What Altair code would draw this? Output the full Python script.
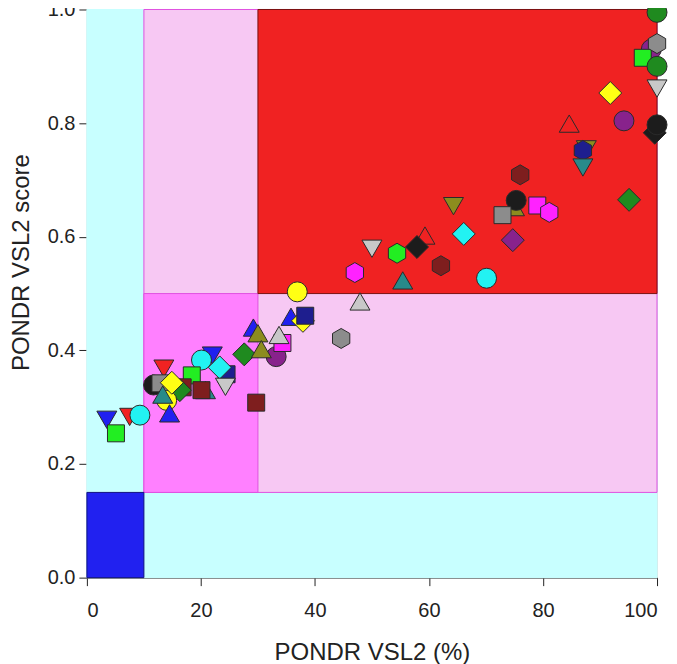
import altair as alt
import pandas as pd

# ---- background regions ----
region_x = [0, 10, 10, 30, 0]
region_x2 = [100, 100, 30, 100, 10]
region_y = [0, 0.15, 0.15, 0.5, 0]
region_y2 = [1, 1, 0.5, 1, 0.15]
region_fill = ["#C8FFFF", "#F7C8F3", "#FF80FF", "#F02222", "#2121F0"]
region_stroke = ["#C8FFFF", "#E050E0", "#E050E0", "#7A1010", "#101080"]

# ---- shapes & colours ----
SHAPES = {
    "circle": "circle",
    "square": "M-0.85,-0.85L0.85,-0.85L0.85,0.85L-0.85,0.85Z",
    "diamond": "M0,-1.15L1.15,0L0,1.15L-1.15,0Z",
    "up": "M0,-1.1L1,0.63L-1,0.63Z",
    "down": "M0,1.1L1,-0.63L-1,-0.63Z",
    "hex": "M0,-1L0.866,-0.5L0.866,0.5L0,1L-0.866,0.5L-0.866,-0.5Z",
}
COLORS = {
    "green": "#1F8A1F", "lime": "#22EE22", "gray": "#8C8C8C", "lgray": "#C8C8C8",
    "purple": "#88228C", "yellow": "#FFFF14", "black": "#1C1C1C", "red": "#F02222",
    "olive": "#8C8C1E", "navy": "#1E1E8E", "teal": "#288A8A", "maroon": "#7E1E1E",
    "magenta": "#FF22FF", "cyan": "#22F2F2", "blue": "#2020F0",
}

# ---- data points ----
x_values = [100, 99.0, 97.5, 100, 100, 100, 91.8, 94.2, 99.6, 100,
            84.6, 87.6, 87.0, 87.0, 95.1, 76.0, 75.0, 75.3, 72.9, 79.0,
            81.1, 74.7, 66.1, 64.3, 70.1, 59.3, 57.9, 54.4, 62.1, 55.4,
            50.0, 47.0, 36.9, 47.9, 44.6, 35.8, 37.9, 38.3, 29.2, 30.0,
            33.2, 34.3, 33.7, 27.6, 30.6, 29.7, 22.0, 24.5, 20.1, 23.3,
            24.3, 18.4, 20.8, 20.1, 13.5, 11.7, 12.9, 16.8, 16.3, 14.0,
            13.3, 14.9, 14.5, 3.5, 7.5, 9.3, 5.1]
y_values = [0.995, 0.93, 0.915, 0.94, 0.90, 0.865, 0.853, 0.804, 0.783, 0.797,
            0.795, 0.758, 0.752, 0.726, 0.665, 0.709, 0.648, 0.664, 0.638, 0.655,
            0.643, 0.594, 0.605, 0.658, 0.527, 0.598, 0.582, 0.571, 0.549, 0.519,
            0.583, 0.537, 0.503, 0.482, 0.421, 0.455, 0.452, 0.461, 0.436, 0.426,
            0.389, 0.413, 0.423, 0.393, 0.398, 0.308, 0.395, 0.358, 0.383, 0.37,
            0.34, 0.356, 0.326, 0.33, 0.372, 0.339, 0.342, 0.335, 0.33, 0.312,
            0.318, 0.343, 0.285, 0.282, 0.287, 0.286, 0.254]
shape_names = ["circle", "circle", "square", "hex", "circle", "down", "diamond", "circle", "diamond", "circle",
               "up", "down", "hex", "down", "diamond", "hex", "up", "circle", "square", "square",
               "hex", "diamond", "diamond", "down", "circle", "up", "diamond", "hex", "hex", "up",
               "down", "hex", "circle", "up", "hex", "up", "diamond", "square", "up", "up",
               "circle", "square", "up", "diamond", "up", "square", "down", "square", "circle", "diamond",
               "down", "square", "up", "square", "down", "circle", "square", "square", "diamond", "circle",
               "up", "diamond", "up", "down", "down", "circle", "square"]
color_names = ["green", "purple", "lime", "gray", "green", "lgray", "yellow", "purple", "black", "black",
               "red", "olive", "navy", "teal", "green", "maroon", "olive", "black", "gray", "magenta",
               "magenta", "purple", "cyan", "olive", "cyan", "red", "black", "lime", "maroon", "teal",
               "lgray", "magenta", "yellow", "lgray", "gray", "blue", "yellow", "navy", "blue", "olive",
               "purple", "magenta", "lgray", "green", "olive", "maroon", "blue", "navy", "cyan", "cyan",
               "lgray", "lime", "teal", "maroon", "red", "black", "gray", "maroon", "green", "yellow",
               "teal", "yellow", "blue", "blue", "red", "cyan", "lime"]

regions = pd.DataFrame({"x": region_x, "x2": region_x2, "y": region_y, "y2": region_y2,
                        "fill": region_fill, "stroke": region_stroke})
points = pd.DataFrame({"x": x_values, "y": y_values,
                       "shape": [SHAPES[s] for s in shape_names],
                       "color": [COLORS[c] for c in color_names]})
points["order"] = range(len(points))

xscale = alt.Scale(domain=[0, 100], nice=False, zero=False)
yscale = alt.Scale(domain=[0, 1], nice=False, zero=False)

xaxis = alt.Axis(values=[0, 20, 40, 60, 80, 100], format="d", title="PONDR VSL2 (%)",
                 grid=False, tickSize=8, labelPadding=15, titlePadding=20,
                 labelFontSize=20, titleFontSize=24, titleFontWeight="normal",
                 labelFont="Liberation Sans", titleFont="Liberation Sans",
                 domainColor="#444", tickColor="#222", labelColor="#222", titleColor="#222")
yaxis = alt.Axis(values=[0, 0.2, 0.4, 0.6, 0.8, 1.0], format=".1f", title="PONDR VSL2 score",
                 grid=False, tickSize=8, labelPadding=4, titlePadding=14, titleY=253,
                 labelFontSize=20, titleFontSize=24, titleFontWeight="normal",
                 labelFont="Liberation Sans", titleFont="Liberation Sans",
                 domainColor="#666", tickColor="#222", labelColor="#222", titleColor="#222")

rects = alt.Chart(regions).mark_rect(strokeWidth=1).encode(
    x=alt.X("x:Q", scale=xscale, axis=xaxis),
    x2="x2:Q",
    y=alt.Y("y:Q", scale=yscale, axis=yaxis),
    y2="y2:Q",
    fill=alt.Fill("fill:N", scale=None),
    stroke=alt.Stroke("stroke:N", scale=None),
)

pts = alt.Chart(points).mark_point(filled=True, size=400, opacity=1, fillOpacity=1,
                                   stroke="#2a2a2a", strokeWidth=1).encode(
    x=alt.X("x:Q", scale=xscale),
    y=alt.Y("y:Q", scale=yscale),
    shape=alt.Shape("shape:N", scale=None),
    fill=alt.Fill("color:N", scale=None),
    order=alt.Order("order:Q"),
)

chart = alt.layer(rects, pts).properties(
    width=571, height=569,
    autosize=alt.AutoSizeParams(type="none"),
    padding={"left": 79, "top": 1, "right": 12, "bottom": 86},
).configure_view(stroke=None).configure(background="white")

chart.save("out.html", embed_options={"renderer": "svg", "actions": False})
